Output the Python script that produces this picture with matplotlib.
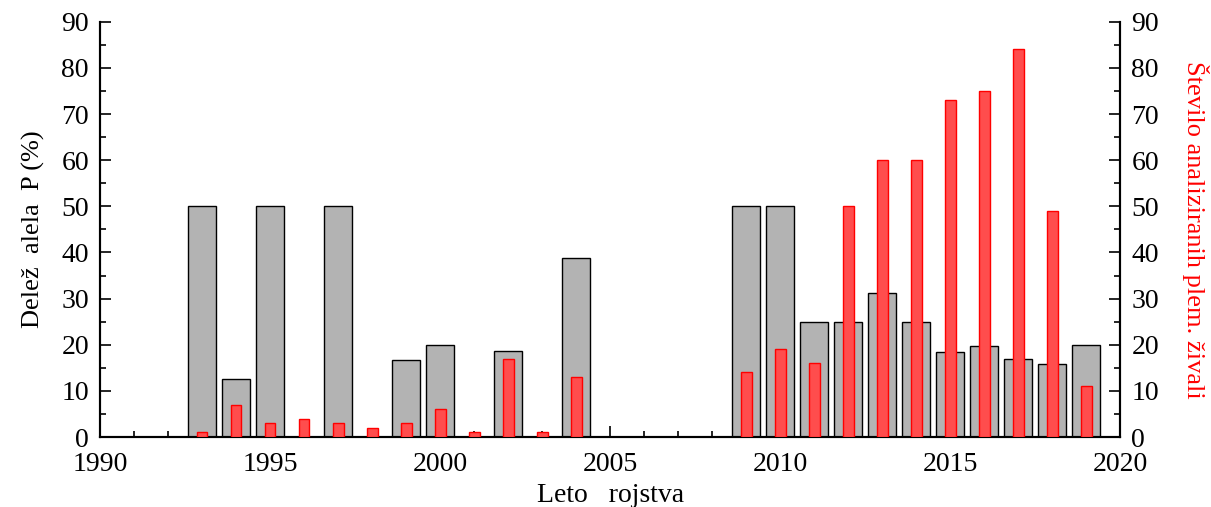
import matplotlib
matplotlib.use("Agg")
import matplotlib.pyplot as plt
from matplotlib.ticker import MultipleLocator

plt.rcParams['font.family'] = ['Liberation Serif', 'DejaVu Serif']

# delež alela P (%) po letih rojstva
years_p = [1993, 1994, 1995, 1997, 1999, 2000, 2002, 2004,
           2009, 2010, 2011, 2012, 2013, 2014, 2015, 2016, 2017, 2018, 2019]
share_p = [50, 12.5, 50, 50, 16.7, 20, 18.75, 38.9,
           50, 50, 25, 25, 31.25, 25, 18.5, 19.7, 17, 15.8, 20]

# število analiziranih plemenskih živali
years_n = [1993, 1994, 1995, 1996, 1997, 1998, 1999, 2000, 2001, 2002, 2003, 2004,
           2009, 2010, 2011, 2012, 2013, 2014, 2015, 2016, 2017, 2018, 2019]
count_n = [1, 7, 3, 4, 3, 2, 3, 6, 1, 17, 1, 13,
           14, 19, 16, 50, 60, 60, 73, 75, 84, 49, 11]

fig = plt.figure(figsize=(12.11, 5.07), dpi=100)
ax = fig.add_axes([0.0826, 0.138, 0.8424, 0.819])
ax2 = ax.twinx()

ax.bar(years_p, share_p, width=0.82, color='#b3b3b3', edgecolor='black', linewidth=1.0, zorder=2)
ax2.bar(years_n, count_n, width=0.32, color='#ff4d4d', edgecolor='#ff0000', linewidth=1.0, zorder=3)

for a in (ax, ax2):
    a.set_ylim(0, 90)
    a.yaxis.set_major_locator(MultipleLocator(10))
    a.yaxis.set_minor_locator(MultipleLocator(5))
    a.spines['top'].set_visible(False)
    a.tick_params(which='both', direction='in', labelsize=20, width=1.2)
    a.tick_params(which='major', length=8)
    a.tick_params(which='minor', length=4)
    for s in ('left', 'right', 'bottom'):
        a.spines[s].set_linewidth(1.5)

ax.set_xlim(1990, 2020)
ax.xaxis.set_major_locator(MultipleLocator(5))
ax.xaxis.set_minor_locator(MultipleLocator(1))
ax.tick_params(axis='x', which='both', top=False, pad=11)
ax.tick_params(axis='y', pad=8)
ax2.tick_params(axis='y', pad=8)

ax.set_xlabel('Leto   rojstva', fontsize=20, labelpad=4)
ax.set_ylabel('Delež  alela  P (%)', fontsize=19, labelpad=12)
ax2.set_ylabel('Število analiziranih plem. živali', fontsize=19, color='red',
               rotation=270, labelpad=36)

fig.savefig('out.png', dpi=100)
